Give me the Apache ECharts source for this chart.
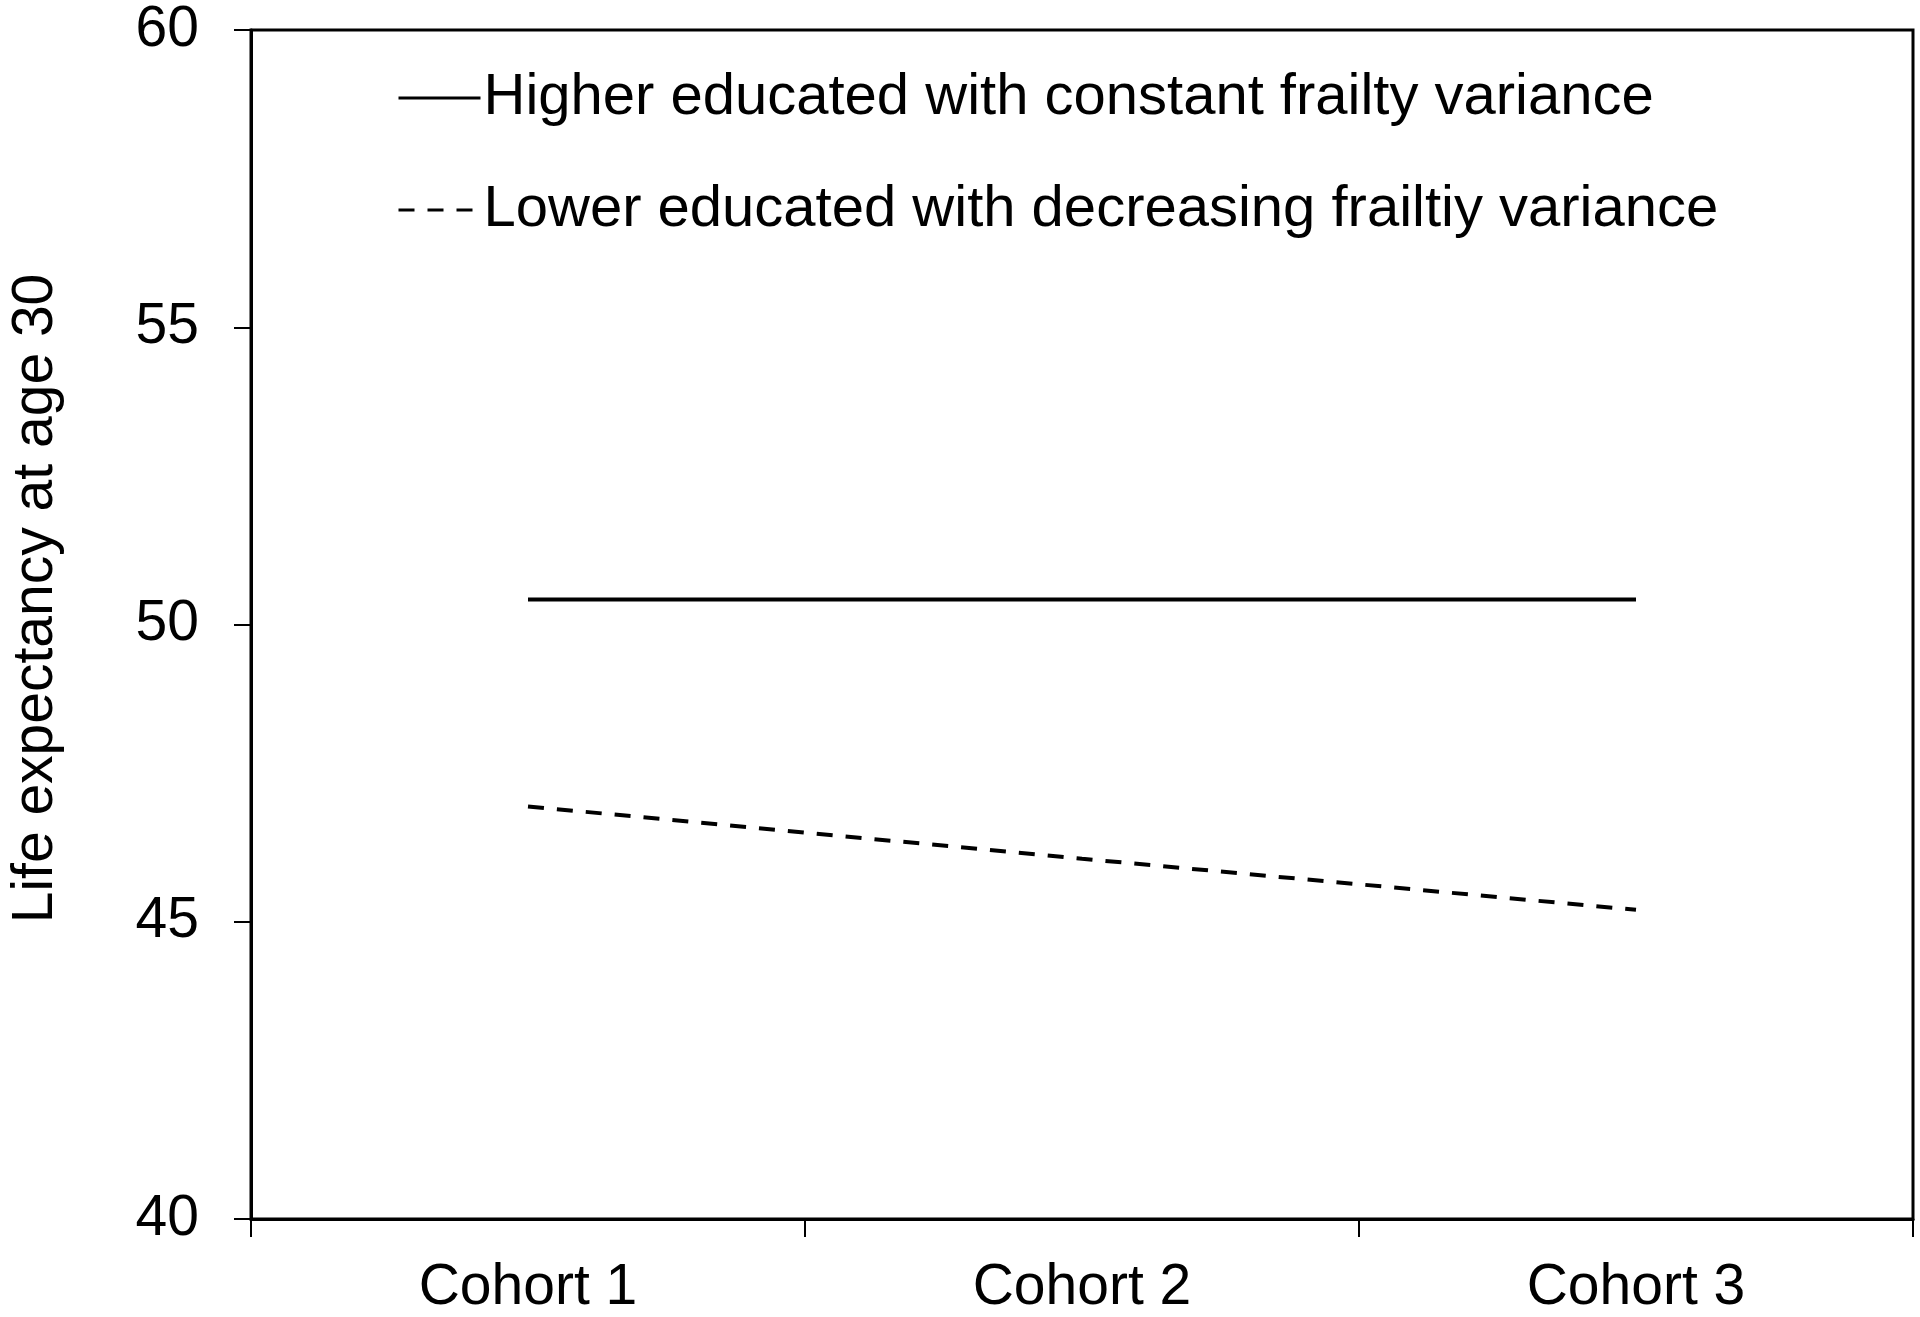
<!DOCTYPE html>
<html>
<head>
<meta charset="utf-8">
<script src="https://cdn.jsdelivr.net/npm/echarts@6/dist/echarts.min.js"></script>
<style>
html,body{margin:0;padding:0;background:#fff;}
#chartDiv{width:1920px;height:1317px;}
</style>
</head>
<body>
<div id="chartDiv"></div>
<script>
var cohorts = ['Cohort 1', 'Cohort 2', 'Cohort 3'];
var higherName = 'Higher educated with constant frailty variance';
var lowerName = 'Lower educated with decreasing frailtiy variance';
var higher = [50.42, 50.42, 50.42];
var lower = [46.94, 46.06, 45.2];

var lifeChart = echarts.init(document.getElementById('chartDiv'));
var font = 'Liberation Sans, Arial, sans-serif';

option = {
    backgroundColor: '#fff',
    animation: false,
    textStyle: {fontFamily: font},
    grid: {
        left: 246, right: 7, top: 30, bottom: 95,
        show: true, borderColor: '#000', borderWidth: 3
    },
    legend: {
        orient: 'vertical',
        left: 392,
        top: 64,
        itemWidth: 82,
        itemHeight: 20,
        itemGap: 54,
        lineStyle: {width: 3},
        itemStyle: {opacity: 0},
        textStyle: {fontSize: 58, color: '#000', fontFamily: font, padding: [0, 0, 0, -2]},
        data: [higherName, lowerName]
    },
    xAxis: {
        type: 'category',
        boundaryGap: true,
        data: cohorts,
        axisLine: {lineStyle: {color: '#000', width: 3}},
        axisTick: {show: true, length: 18, lineStyle: {color: '#000', width: 2}},
        axisLabel: {fontSize: 57, color: '#000', margin: 41, fontFamily: font},
        splitLine: {show: false}
    },
    yAxis: {
        type: 'value',
        min: 40,
        max: 60,
        interval: 5,
        name: 'Life expectancy at age 30',
        nameLocation: 'middle',
        nameGap: 186,
        nameTextStyle: {fontSize: 57, color: '#000', fontFamily: font, padding: [0, 0, 0, 52]},
        axisLine: {show: true, lineStyle: {color: '#000', width: 3}},
        axisTick: {show: true, length: 17, lineStyle: {color: '#000', width: 2}},
        axisLabel: {fontSize: 57, color: '#000', margin: 52, fontFamily: font},
        splitLine: {show: false}
    },
    series: [
        {
            name: higherName,
            type: 'line',
            symbol: 'none',
            data: higher,
            lineStyle: {color: '#000', width: 4, type: 'solid'},
            itemStyle: {color: '#000'}
        },
        {
            name: lowerName,
            type: 'line',
            symbol: 'none',
            data: lower,
            lineStyle: {color: '#000', width: 4, type: [16, 13]},
            itemStyle: {color: '#000'}
        }
    ]
};
lifeChart.setOption(option);
</script>
</body>
</html>
